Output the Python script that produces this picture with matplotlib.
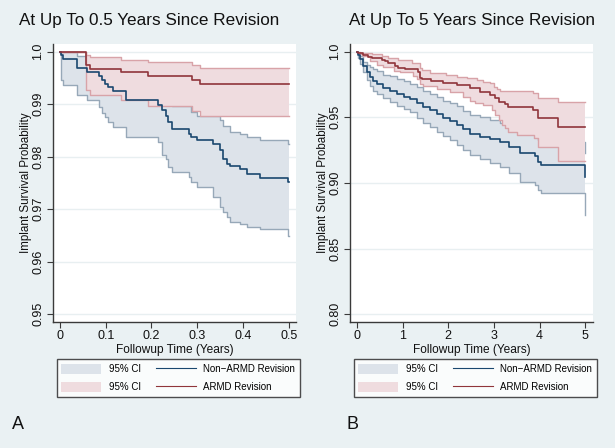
import numpy as np
import matplotlib
matplotlib.use("Agg")
import matplotlib.pyplot as plt
from matplotlib.patches import Patch
from matplotlib.lines import Line2D

plt.rcParams['font.family'] = ['Liberation Sans', 'DejaVu Sans']

# ---------------- data: panel A (0.5 years) ----------------
A_non_t = [0, 0.003, 0.006, 0.037, 0.060, 0.085, 0.092, 0.098, 0.104, 0.115, 0.144, 0.215, 0.222, 0.231,
           0.236, 0.244, 0.281, 0.286, 0.299, 0.335, 0.350, 0.357, 0.365, 0.372, 0.394, 0.408, 0.437, 0.498]
A_non_s = [1.0, 0.9994, 0.9986, 0.9969, 0.9961, 0.9953, 0.9947, 0.9939, 0.9933, 0.9926, 0.9908, 0.9899, 0.9889,
           0.9878, 0.9866, 0.9853, 0.9843, 0.9837, 0.9831, 0.9824, 0.9812, 0.9796, 0.9786, 0.9783, 0.9777, 0.9767,
           0.9760, 0.9751]
A_non_lo = [1.0, 0.9946, 0.9937, 0.9918, 0.9908, 0.9895, 0.9883, 0.9875, 0.9867, 0.9857, 0.9838, 0.9829, 0.9803,
            0.9795, 0.9781, 0.9770, 0.9761, 0.9751, 0.9742, 0.9723, 0.9704, 0.9694, 0.9685, 0.9675, 0.9672, 0.9667,
            0.9662, 0.9649]
A_non_hi = [1.0, 1.0, 1.0, 0.9992, 0.9987, 0.9981, 0.9977, 0.9972, 0.9968, 0.9963, 0.9949, 0.9940, 0.9930,
            0.9915, 0.9903, 0.9897, 0.9897, 0.9885, 0.9878, 0.9878, 0.9869, 0.9859, 0.9859, 0.9848, 0.9843, 0.9837,
            0.9831, 0.9824]

A_armd_t = [0, 0.057, 0.066, 0.133, 0.192, 0.288, 0.306]
A_armd_s = [1.0, 0.9975, 0.9968, 0.9961, 0.9954, 0.9947, 0.9938]
A_armd_hi = [1.0, 0.9993, 0.9989, 0.9984, 0.9980, 0.9974, 0.9969]
A_armd_lo = [1.0, 0.9928, 0.9918, 0.9908, 0.9897, 0.9887, 0.9877]
A_end = 0.5

# ---------------- data: panel B (5 years) ----------------
B_non_t = [0, 0.03, 0.07, 0.14, 0.21, 0.29, 0.36, 0.43, 0.58, 0.72, 0.87, 1.02, 1.16, 1.31, 1.45, 1.60, 1.75,
           1.89, 2.04, 2.18, 2.33, 2.47, 2.69, 2.91, 3.13, 3.33, 3.57, 3.90, 3.97, 4.02, 4.99]
B_non_s = [1.0, 0.9975, 0.9944, 0.9894, 0.9843, 0.9805, 0.9774, 0.9754, 0.9724, 0.9703, 0.9678, 0.9658, 0.9640,
           0.9607, 0.9576, 0.9553, 0.9522, 0.9495, 0.9472, 0.9440, 0.9410, 0.9375, 0.9350, 0.9335, 0.9310, 0.9275,
           0.9225, 0.9208, 0.9158, 0.9137, 0.9048]
B_non_lo = [1.0, 0.9950, 0.9904, 0.9844, 0.9783, 0.9740, 0.9704, 0.9679, 0.9644, 0.9618, 0.9588, 0.9563, 0.9540,
            0.9497, 0.9456, 0.9423, 0.9387, 0.9355, 0.9327, 0.9290, 0.9255, 0.9215, 0.9180, 0.9155, 0.9120, 0.9075,
            0.9010, 0.8985, 0.8945, 0.8927, 0.8757]
B_non_hi = [1.0, 0.9990, 0.9965, 0.9919, 0.9898, 0.9881, 0.9866, 0.9851, 0.9825, 0.9812, 0.9795, 0.9776, 0.9754,
            0.9728, 0.9704, 0.9678, 0.9652, 0.9627, 0.9608, 0.9589, 0.9551, 0.9521, 0.9500, 0.9480, 0.9460, 0.9430,
            0.9380, 0.9366, 0.9330, 0.9310, 0.9230]

B_armd_t = [0, 0.03, 0.14, 0.25, 0.32, 0.54, 0.61, 0.69, 0.83, 0.90, 1.05, 1.34, 1.38, 1.42, 1.63, 1.89, 2.18,
            2.47, 2.69, 2.91, 3.02, 3.10, 3.24, 3.31, 3.86, 3.97, 4.41]
B_armd_s = [1.0, 0.9993, 0.9975, 0.9962, 0.9950, 0.9937, 0.9929, 0.9911, 0.9891, 0.9878, 0.9868, 0.9848, 0.9797,
            0.9790, 0.9775, 0.9759, 0.9746, 0.9721, 0.9696, 0.9670, 0.9645, 0.9620, 0.9602, 0.9578, 0.9556, 0.9493,
            0.9429]
B_armd_hi_t = [0, 0.07, 0.32, 0.54, 0.69, 0.90, 1.20, 1.38, 1.42, 1.60, 1.74, 1.96, 2.18, 2.40, 2.62, 2.77,
               2.91, 2.99, 3.06, 3.13, 3.86, 3.97, 4.41]
B_armd_hi = [1.0, 0.9988, 0.9980, 0.9967, 0.9950, 0.9937, 0.9911, 0.9873, 0.9861, 0.9840, 0.9835, 0.9823, 0.9810,
             0.9797, 0.9785, 0.9772, 0.9759, 0.9734, 0.9714, 0.9703, 0.9683, 0.9650, 0.9615]
B_armd_lo_t = [0, 0.03, 0.14, 0.29, 0.43, 0.58, 0.80, 0.94, 1.23, 1.31, 1.38, 1.45, 1.75, 2.04, 2.33, 2.47, 2.58,
               2.77, 2.95, 3.02, 3.10, 3.17, 3.24, 3.31, 3.50, 3.88, 3.97, 4.41]
B_armd_lo = [1.0, 0.9982, 0.9970, 0.9932, 0.9901, 0.9881, 0.9856, 0.9843, 0.9818, 0.9792, 0.9754, 0.9741, 0.9716,
             0.9691, 0.9653, 0.9627, 0.9610, 0.9594, 0.9556, 0.9518, 0.9480, 0.9442, 0.9417, 0.9390, 0.9366, 0.9340,
             0.9277, 0.9168]
B_end = 5.0

# ticks / labels
A_xticks = [0, 0.1, 0.2, 0.3, 0.4, 0.5]
A_xlabels = ["0", "0.1", "0.2", "0.3", "0.4", "0.5"]
A_yticks = [0.95, 0.96, 0.97, 0.98, 0.99, 1.0]
A_ylabels = ["0.95", "0.96", "0.97", "0.98", "0.99", "1.0"]
B_xticks = [0, 1, 2, 3, 4, 5]
B_xlabels = ["0", "1", "2", "3", "4", "5"]
B_yticks = [0.80, 0.85, 0.90, 0.95, 1.0]
B_ylabels = ["0.80", "0.85", "0.90", "0.95", "1.0"]

titles = ["At Up To 0.5 Years Since Revision", "At Up To 5 Years Since Revision"]
series_labels = ["Non\u2212ARMD Revision", "ARMD Revision"]
ci_label = "95% CI"
panel_letters = ["A", "B"]

# ---------------- styling ----------------
BG = "#eaf1f3"
NAVY = "#1a476f"
MAROON = "#90353b"
BLUE_FILL = "#dde3ea"
RED_FILL = "#efdcdf"
BLUE_EDGE = "#97a8b8"
RED_EDGE = "#d8a3a8"
AXC = "#3a3a3a"
TXT = "#111111"


def step_on(t, y, grid):
    t = np.asarray(t, float)
    y = np.asarray(y, float)
    idx = np.searchsorted(t, grid, side="right") - 1
    return y[idx]


def draw_band(ax, t_lo, lo, t_hi, hi, t_end, fill_c, edge_c, z):
    grid = np.union1d(np.asarray(t_lo, float), np.asarray(t_hi, float))
    grid = np.append(grid[grid < t_end], t_end)
    lo_g = step_on(t_lo, lo, grid)
    hi_g = step_on(t_hi, hi, grid)
    ax.fill_between(grid, lo_g, hi_g, step="post", color=fill_c, lw=0, zorder=z)
    ax.step(grid, lo_g, where="post", color=edge_c, lw=1.0, zorder=z + 0.1)
    ax.step(grid, hi_g, where="post", color=edge_c, lw=1.0, zorder=z + 0.1)


def draw_line(ax, t, s, t_end, c, z):
    grid = np.asarray(t, float)
    grid = np.append(grid[grid < t_end], t_end)
    ax.step(grid, step_on(t, s, grid), where="post", color=c, lw=1.2, zorder=z)


fig = plt.figure(figsize=(6.15, 4.48), dpi=100, facecolor=BG)

axA = fig.add_axes([0.0857, 0.2813, 0.3956, 0.6205])
axB = fig.add_axes([0.5686, 0.2813, 0.3956, 0.6205])

draw_band(axA, A_non_t, A_non_lo, A_non_t, A_non_hi, A_end, BLUE_FILL, BLUE_EDGE, 1)
draw_band(axA, A_armd_t, A_armd_lo, A_armd_t, A_armd_hi, A_end, RED_FILL, RED_EDGE, 2)
draw_line(axA, A_non_t, A_non_s, A_end, NAVY, 3)
draw_line(axA, A_armd_t, A_armd_s, A_end, MAROON, 4)

draw_band(axB, B_non_t, B_non_lo, B_non_t, B_non_hi, B_end, BLUE_FILL, BLUE_EDGE, 1)
draw_band(axB, B_armd_lo_t, B_armd_lo, B_armd_hi_t, B_armd_hi, B_end, RED_FILL, RED_EDGE, 2)
draw_line(axB, B_non_t, B_non_s, B_end, NAVY, 3)
draw_line(axB, B_armd_t, B_armd_s, B_end, MAROON, 4)

axA.set_xlim(-0.016, 0.516)
axA.set_ylim(0.94853, 1.00147)
axB.set_xlim(-0.160, 5.169)
axB.set_ylim(0.79414, 1.00586)

setup = [(axA, A_xticks, A_xlabels, A_yticks, A_ylabels), (axB, B_xticks, B_xlabels, B_yticks, B_ylabels)]
for ax, xt, xl, yt, yl in setup:
    ax.set_facecolor("white")
    for sp in ["top", "right"]:
        ax.spines[sp].set_visible(False)
    for sp in ["left", "bottom"]:
        ax.spines[sp].set_color(AXC)
        ax.spines[sp].set_linewidth(1.0)
    ax.set_xticks(xt)
    ax.set_xticklabels(xl)
    ax.set_yticks(yt)
    ax.set_yticklabels(yl, rotation=90, va="center")
    ax.tick_params(direction="out", length=4, width=0.8, color=AXC, labelsize=9, pad=2, labelcolor=TXT)
    ax.yaxis.grid(True, color="#e8eff1", lw=1.0)
    ax.set_axisbelow(True)
    ax.set_xlabel("Followup Time (Years)", fontsize=8.6, labelpad=1, color=TXT)
    ax.set_ylabel("Implant Survival Probability", fontsize=8.4, labelpad=0, color=TXT)

    handles = [Patch(facecolor=BLUE_FILL, edgecolor="none"), Patch(facecolor=RED_FILL, edgecolor="none"),
               Line2D([], [], color=NAVY, lw=0.8), Line2D([], [], color=MAROON, lw=0.8)]
    labels = [ci_label, ci_label, series_labels[0], series_labels[1]]
    x0 = ax.get_position().x0 + 0.0065
    leg = ax.legend(handles, labels, ncol=2, loc="upper left", bbox_to_anchor=(x0, 0.198),
                    bbox_transform=fig.transFigure, frameon=True, fancybox=False, fontsize=7,
                    handlelength=4.1, handleheight=1.3, handletextpad=0.8, columnspacing=1.55,
                    borderpad=0.45, labelspacing=0.75, borderaxespad=0)
    leg.get_frame().set_edgecolor("#222222")
    leg.get_frame().set_linewidth(1.0)
    leg.get_frame().set_facecolor("white")

fig.text(149.5 / 615, 1 - 20 / 448, titles[0], ha="center", va="center", fontsize=12.3, color=TXT)
fig.text(471.5 / 615, 1 - 20 / 448, titles[1], ha="center", va="center", fontsize=12.3, color=TXT)
fig.text(12 / 615, 1 - 424 / 448, panel_letters[0], ha="left", va="center", fontsize=13, color=TXT)
fig.text(347 / 615, 1 - 424 / 448, panel_letters[1], ha="left", va="center", fontsize=13, color=TXT)

fig.savefig("out.png", dpi=100, facecolor=BG)
